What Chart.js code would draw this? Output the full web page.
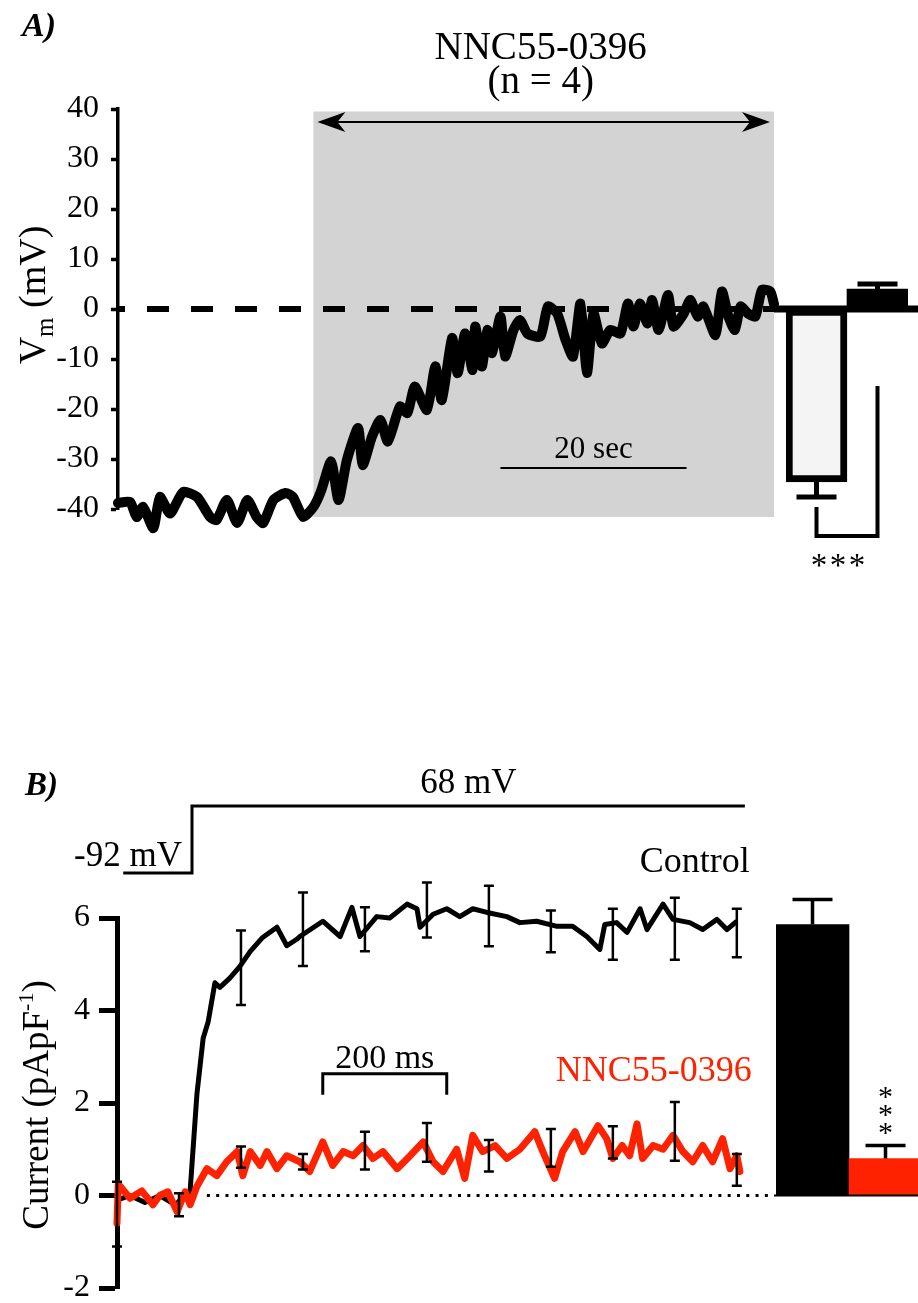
<!DOCTYPE html>
<html>
<head>
<meta charset="utf-8">
<script src="https://cdn.jsdelivr.net/npm/chart.js@4.4.1/dist/chart.umd.min.js"></script>
<style>
  html, body { margin: 0; padding: 0; background: #fff; }
  body { width: 918px; height: 1303px; position: relative; overflow: hidden; }
  canvas { position: absolute; }
</style>
</head>
<body>
<canvas id="traceA" width="780" height="600" style="left:0;top:0"></canvas>
<canvas id="barsA" width="144" height="600" style="left:774px;top:0"></canvas>
<canvas id="stepB" width="780" height="150" style="left:0;top:740px"></canvas>
<canvas id="traceB" width="780" height="640" style="left:0;top:700px"></canvas>
<canvas id="barsB" width="150" height="640" style="left:774px;top:700px"></canvas>
<script>
// ---------- Panel A : membrane potential (time in s, Vm in mV)
const vmTime = [0.0,1.3,2.0,2.7,3.8,4.5,5.6,7.0,8.5,9.9,10.6,11.7,12.8,13.9,14.9,15.6,16.7,18.0,18.8,19.9,
  21.0,21.8,22.9,23.7,24.6,25.8,26.3,27.3,28.2,29.0,30.3,31.1,31.9,33.2,34.1,34.8,35.9,36.5,37.3,38.1,
  38.4,39.1,39.7,40.2,41.1,41.6,42.5,43.2,44.0,45.4,46.2,47.2,48.1,48.9,49.7,50.4,51.1,52.0,52.9,54.0,
  54.8,55.4,56.1,56.9,57.4,58.1,59.1,59.7,60.8,61.5,62.3,62.9,64.2,64.9,65.6,66.3,66.9,67.7,68.5,69.2,70.1,70.5];
const vmValue = [-38.8,-38.6,-41.6,-39.6,-43.8,-37.6,-40.9,-36.6,-37.6,-41.6,-42.2,-38.2,-42.8,-38.2,-41.6,-42.8,-38.2,-36.8,-37.6,-41.6,
  -39.6,-36.5,-30.5,-38.2,-30.2,-23.8,-31.2,-25.5,-22.2,-26.5,-19.5,-20.8,-15.5,-20.2,-11.5,-18.2,-5.8,-12.8,-4.9,-12.2,
  -3.5,-11.5,-4.2,-8.8,-1.5,-9.5,-4.2,-2.2,-4.9,-5.5,0.5,-0.9,-6.2,-9.5,1.1,-12.8,-0.9,-6.9,-4.2,-4.9,
  1.1,-3.5,1.1,-2.9,1.8,-4.2,2.8,-3.5,-0.9,1.8,-1.5,0.5,-5.2,3.5,-1.5,-4.2,0.5,-0.9,-1.5,3.8,3.5,1.0];
const vmTicks = [-40, -30, -20, -10, 0, 10, 20, 30, 40];
const drugStart = 21.0, drugEnd = 70.5;      // NNC55-0396 application (s)
const barLabelsA = ['Control', 'NNC55-0396'];
const vmBarMean = [-34.6, 4.0];
const vmBarErr = [-37.6, 5.0];

// ---------- Panel B : current density (time in ms, pA/pF)
const ctrlTime = [0,21,45,69,94,118,129,139,147,158,166,182,198,215,235,258,274,290,295,332,360,379,392,419,440,468,
  484,489,510,532,553,574,597,629,650,677,710,735,758,779,787,806,823,844,855,881,897,924,945,968,984,1000];
const ctrlValue = [-0.1,0.0,-0.15,0.0,-0.2,0.1,2.2,3.4,3.75,4.6,4.5,4.7,4.95,5.28,5.58,5.8,5.4,5.54,5.6,5.93,5.6,6.23,5.6,6.03,6.0,6.3,
  6.2,5.8,6.08,6.2,6.03,6.2,6.12,6.03,5.9,5.93,5.82,5.82,5.6,5.32,5.86,5.9,5.69,6.2,5.75,6.3,5.97,5.9,5.75,5.97,5.75,5.93];
const nncTime = [0,2,21,40,58,69,82,97,110,118,129,145,161,177,194,203,215,231,242,258,274,295,311,332,348,365,381,397,413,429,
  452,473,494,510,526,548,561,574,590,610,629,650,674,687,706,719,739,752,776,790,800,815,827,839,848,865,881,897,913,929,
  945,961,977,989,1000,1005];
const nncValue = [-0.6,0.25,-0.06,0.1,-0.2,0.0,0.08,-0.35,0.08,-0.2,0.2,0.58,0.43,0.73,0.95,0.43,0.95,0.65,0.95,0.58,0.86,0.73,0.52,1.16,0.65,0.95,0.86,1.08,0.8,0.95,
  0.58,0.86,1.16,0.73,0.52,1.0,0.37,1.3,0.95,1.08,0.8,1.0,1.38,0.95,0.37,0.95,1.38,0.95,1.51,1.23,0.8,1.08,0.86,1.55,0.8,1.08,1.0,1.3,0.95,0.73,
  1.08,0.73,1.23,0.58,0.86,0.52];
const errTime = [0,100,200,300,400,500,600,700,800,900,1000];
const ctrlErrLow  = [-1.1,-0.45,4.12,4.96,5.28,5.58,5.39,5.26,5.1,5.1,5.15];
const ctrlErrHigh = [0.3,0.05,5.73,6.55,6.23,6.77,6.70,6.16,6.2,6.44,6.2];
const nncErrLow  = [null,null,0.6,0.56,0.56,0.73,0.52,0.62,0.8,0.75,0.21];
const nncErrHigh = [null,null,1.06,0.9,1.38,1.57,1.2,1.44,1.5,2.02,0.9];
const curTicks = [-2, 0, 2, 4, 6];
const stepTime = [10, 121, 121, 1013];
const stepVolt = [-92, -92, 68, 68];
const barLabelsB = ['Control', 'NNC55-0396'];
const curBarMean = [5.86, 0.8];
const curBarErr = [6.4, 1.08];

const SERIF = "'Liberation Serif', 'Times New Roman', serif";
const RED = '#ff2200';
Chart.defaults.font.family = SERIF;
Chart.defaults.color = '#000';

const xy = (xs, ys) => xs.map((t, i) => ({ x: t, y: ys[i] }));

function txt(ctx, s, x, y, size, align, color, style) {
  ctx.save();
  ctx.font = (style ? style + ' ' : '') + size + 'px ' + SERIF;
  ctx.fillStyle = color || '#000';
  ctx.textAlign = align || 'center';
  ctx.textBaseline = 'alphabetic';
  ctx.fillText(s, x, y);
  ctx.restore();
}

function rotatedTitle(ctx, bx, cy, parts) {
  ctx.save();
  ctx.translate(bx, cy);
  ctx.rotate(-Math.PI / 2);
  ctx.fillStyle = '#000';
  ctx.textAlign = 'left';
  ctx.textBaseline = 'alphabetic';
  let total = 0;
  parts.forEach(p => { ctx.font = p.size + 'px ' + SERIF; p.w = ctx.measureText(p.t).width; total += p.w; });
  let pos = -total / 2;
  parts.forEach(p => { ctx.font = p.size + 'px ' + SERIF; ctx.fillText(p.t, pos, p.dy); pos += p.w; });
  ctx.restore();
}

function errBar(ctx, x, yLo, yHi, half, w) {
  ctx.lineWidth = w;
  ctx.beginPath();
  ctx.moveTo(x, yLo); ctx.lineTo(x, yHi);
  ctx.moveTo(x - half, yLo); ctx.lineTo(x + half, yLo);
  ctx.moveTo(x - half, yHi); ctx.lineTo(x + half, yHi);
  ctx.stroke();
}

function arrowHead(ctx, tipX, y, dir) {
  ctx.beginPath();
  ctx.moveTo(tipX, y);
  ctx.lineTo(tipX + dir * 28, y - 10);
  ctx.lineTo(tipX + dir * 20, y);
  ctx.lineTo(tipX + dir * 28, y + 10);
  ctx.closePath();
  ctx.fill();
}

function yAxis(ticks, tickLen, width, pad, axisW) {
  return {
    min: ticks[0], max: ticks[ticks.length - 1],
    afterBuildTicks: s => { s.ticks = ticks.map(v => ({ value: v })); },
    afterFit: s => { s.width = width; },
    ticks: { font: { size: 32, family: SERIF }, color: '#000', padding: pad },
    grid: { drawOnChartArea: false, drawTicks: true, tickLength: tickLen, tickWidth: axisW, tickColor: '#000' },
    border: { display: true, color: '#000', width: axisW }
  };
}

const common = { responsive: false, animation: false, events: [], devicePixelRatio: 1,
  plugins: { legend: { display: false }, tooltip: { enabled: false } } };

// ---------- Panel A trace
const panelA = {
  id: 'panelA',
  beforeDatasetsDraw(chart) {
    const { ctx, scales: { x, y } } = chart;
    const x0 = x.getPixelForValue(drugStart), x1 = x.getPixelForValue(drugEnd);
    const y0 = y.getPixelForValue(39.5), y1 = y.getPixelForValue(-41.6);
    ctx.save();
    ctx.fillStyle = '#d3d3d3';
    ctx.fillRect(x0, y0, x1 - x0, y1 - y0);
    ctx.restore();
  },
  afterDraw(chart) {
    const { ctx, scales: { x, y } } = chart;
    const x0 = x.getPixelForValue(drugStart), x1 = x.getPixelForValue(drugEnd);
    const ay = y.getPixelForValue(37.4);
    ctx.save();
    ctx.strokeStyle = '#000'; ctx.fillStyle = '#000'; ctx.lineWidth = 2;
    ctx.beginPath(); ctx.moveTo(x0 + 14, ay); ctx.lineTo(x1 - 14, ay); ctx.stroke();
    arrowHead(ctx, x0 + 4, ay, 1);
    arrowHead(ctx, x1 - 4, ay, -1);
    // 20 s scale bar
    const sb0 = x.getPixelForValue(41.1), sb1 = x.getPixelForValue(61.1), sby = y.getPixelForValue(-31.8);
    ctx.lineWidth = 2;
    ctx.beginPath(); ctx.moveTo(sb0, sby); ctx.lineTo(sb1, sby); ctx.stroke();
    ctx.restore();
    txt(ctx, '20 sec', (sb0 + sb1) / 2, sby - 10, 31);
    const mid = (x0 + x1) / 2;
    txt(ctx, 'NNC55-0396', mid - 3, 59, 39);
    txt(ctx, '(n = 4)', mid - 3, 93, 39);
    txt(ctx, 'A)', 22, 36, 34, 'left', '#000', 'italic bold');
    rotatedTitle(ctx, 45, 295, [
      { t: 'V', size: 38, dy: 0 }, { t: 'm', size: 25, dy: 8 }, { t: ' (mV)', size: 38, dy: 0 }
    ]);
  }
};

new Chart(document.getElementById('traceA'), {
  type: 'line',
  data: { datasets: [
    { data: xy(vmTime, vmValue), borderColor: '#000', borderWidth: 10, pointRadius: 0, tension: 0.2,
      borderJoinStyle: 'round', borderCapStyle: 'round', clip: false },
    { data: [{ x: 0, y: 0 }, { x: drugEnd, y: 0 }], borderColor: '#000', borderWidth: 6, pointRadius: 0,
      borderDash: [22, 22], borderDashOffset: 15, clip: false }
  ] },
  options: Object.assign({}, common, {
    layout: { padding: { top: 109, bottom: 91, left: 0, right: 6 } },
    scales: {
      x: { type: 'linear', min: 0, max: drugEnd, display: false },
      y: yAxis(vmTicks, 7, 118, 12, 3.5)
    }
  }),
  plugins: [panelA]
});

// ---------- Panel A bars
const barsAPlugin = {
  id: 'barsA',
  afterDatasetsDraw(chart) {
    const { ctx, scales: { y } } = chart;
    const meta = chart.getDatasetMeta(0);
    const y0 = y.getPixelForValue(0);
    ctx.save();
    ctx.strokeStyle = '#000';
    ctx.lineWidth = 7;
    ctx.beginPath(); ctx.moveTo(0, y0); ctx.lineTo(chart.width, y0); ctx.stroke();
    meta.data.forEach((bar, i) => {
      const yb = y.getPixelForValue(vmBarMean[i]), ye = y.getPixelForValue(vmBarErr[i]);
      ctx.lineWidth = 5;
      ctx.beginPath(); ctx.moveTo(bar.x, yb); ctx.lineTo(bar.x, ye);
      ctx.moveTo(bar.x - 20, ye); ctx.lineTo(bar.x + 20, ye); ctx.stroke();
    });
    const bx0 = meta.data[0].x, bx1 = meta.data[1].x;
    const yLow = y.getPixelForValue(-45.4);
    ctx.lineWidth = 4;
    ctx.beginPath();
    ctx.moveTo(bx0, y.getPixelForValue(-39.6));
    ctx.lineTo(bx0, yLow); ctx.lineTo(bx1, yLow);
    ctx.lineTo(bx1, y.getPixelForValue(-15.4));
    ctx.stroke();
    ctx.restore();
    const mid = (bx0 + bx1) / 2 - 9;
    [-19, 0, 19].forEach(d => txt(ctx, '*', mid + d, yLow + 40, 33));
  }
};

new Chart(document.getElementById('barsA'), {
  type: 'bar',
  data: { labels: barLabelsA, datasets: [{
    data: vmBarMean, backgroundColor: ['#f4f4f4', '#000'], borderColor: '#000',
    borderWidth: [7, 0], borderSkipped: false, barPercentage: 1, categoryPercentage: 1
  }] },
  options: Object.assign({}, common, {
    layout: { padding: { top: 109, bottom: 91, left: 12, right: 10 } },
    scales: {
      x: { display: false },
      y: { display: false, min: vmTicks[0], max: vmTicks[vmTicks.length - 1] }
    }
  }),
  plugins: [barsAPlugin]
});

// ---------- Panel B voltage protocol
const stepPlugin = {
  id: 'stepB',
  afterDraw(chart) {
    const { ctx, scales: { x, y } } = chart;
    txt(ctx, '-92 mV', x.getPixelForValue(stepTime[1]) - 10, y.getPixelForValue(-92) - 7, 35, 'right');
    txt(ctx, '68 mV', (x.getPixelForValue(stepTime[2]) + x.getPixelForValue(stepTime[3])) / 2, y.getPixelForValue(68) - 13, 35);
  }
};

new Chart(document.getElementById('stepB'), {
  type: 'line',
  data: { datasets: [{ data: xy(stepTime, stepVolt), borderColor: '#000', borderWidth: 3, pointRadius: 0,
    borderJoinStyle: 'miter', clip: false }] },
  options: Object.assign({}, common, {
    layout: { padding: { top: 66, bottom: 17, left: 117, right: 6 } },
    scales: {
      x: { type: 'linear', min: 0, max: 1060, display: false },
      y: { min: -92, max: 68, display: false }
    }
  }),
  plugins: [stepPlugin]
});

// ---------- Panel B current traces
const panelB = {
  id: 'panelB',
  afterDatasetsDraw(chart) {
    const { ctx, scales: { x, y } } = chart;
    ctx.save();
    ctx.strokeStyle = '#000';
    errTime.forEach((t, i) => {
      const px = x.getPixelForValue(t);
      errBar(ctx, px, y.getPixelForValue(ctrlErrLow[i]), y.getPixelForValue(ctrlErrHigh[i]), 5, 2.5);
      if (nncErrLow[i] !== null) {
        errBar(ctx, px, y.getPixelForValue(nncErrLow[i]), y.getPixelForValue(nncErrHigh[i]), 5, 2.5);
      }
    });
    // 200 ms scale bracket
    const b0 = x.getPixelForValue(332), b1 = x.getPixelForValue(532);
    const by = y.getPixelForValue(2.63), bt = y.getPixelForValue(2.18);
    ctx.lineWidth = 3;
    ctx.beginPath();
    ctx.moveTo(b0, bt); ctx.lineTo(b0, by); ctx.lineTo(b1, by); ctx.lineTo(b1, bt);
    ctx.stroke();
    ctx.restore();
    txt(ctx, '200 ms', (b0 + b1) / 2, by - 6, 34);
  },
  afterDraw(chart) {
    const { ctx, scales: { x, y } } = chart;
    txt(ctx, 'B)', 25, 95, 33, 'left', '#000', 'italic bold');
    txt(ctx, 'Control', x.getPixelForValue(1021), y.getPixelForValue(7.0), 36, 'right');
    txt(ctx, 'NNC55-0396', x.getPixelForValue(1024), y.getPixelForValue(2.47), 36, 'right', RED);
    rotatedTitle(ctx, 48, 405, [
      { t: 'Current (pApF', size: 37, dy: 0 }, { t: '-1', size: 22, dy: -15 }, { t: ')', size: 37, dy: 0 }
    ]);
  }
};

new Chart(document.getElementById('traceB'), {
  type: 'line',
  data: { datasets: [
    { data: xy(nncTime, nncValue), borderColor: RED, borderWidth: 7, pointRadius: 0, tension: 0,
      borderJoinStyle: 'round', borderCapStyle: 'round', clip: false },
    { data: xy(ctrlTime, ctrlValue), borderColor: '#000', borderWidth: 5, pointRadius: 0, tension: 0,
      borderJoinStyle: 'round', clip: false },
    { data: [{ x: 145, y: 0 }, { x: 1060, y: 0 }], borderColor: '#000', borderWidth: 3, pointRadius: 0,
      borderDash: [3, 6.3], clip: false }
  ] },
  options: Object.assign({}, common, {
    layout: { padding: { top: 218, bottom: 52, left: 0, right: 6 } },
    scales: {
      x: { type: 'linear', min: 0, max: 1060, display: false },
      y: yAxis(curTicks, 18, 117, 9, 5)
    }
  }),
  plugins: [panelB]
});

// ---------- Panel B bars
const barsBPlugin = {
  id: 'barsB',
  afterDatasetsDraw(chart) {
    const { ctx, scales: { y } } = chart;
    const meta = chart.getDatasetMeta(0);
    const y0 = y.getPixelForValue(0);
    ctx.save();
    ctx.strokeStyle = '#000';
    ctx.lineWidth = 2;
    ctx.beginPath(); ctx.moveTo(0, y0); ctx.lineTo(chart.width, y0); ctx.stroke();
    meta.data.forEach((bar, i) => {
      const yb = y.getPixelForValue(curBarMean[i]), ye = y.getPixelForValue(curBarErr[i]);
      ctx.lineWidth = 3.5;
      ctx.beginPath(); ctx.moveTo(bar.x, yb); ctx.lineTo(bar.x, ye);
      ctx.moveTo(bar.x - 20, ye); ctx.lineTo(bar.x + 20, ye); ctx.stroke();
    });
    ctx.restore();
    const ax = meta.data[1].x, cap = y.getPixelForValue(curBarErr[1]);
    [4, 22, 40].forEach(d => txt(ctx, '*', ax, cap - d, 30));
  }
};

new Chart(document.getElementById('barsB'), {
  type: 'bar',
  data: { labels: barLabelsB, datasets: [{
    data: curBarMean, backgroundColor: ['#000', RED], borderWidth: 0, barPercentage: 1, categoryPercentage: 1
  }] },
  options: Object.assign({}, common, {
    layout: { padding: { top: 218, bottom: 52, left: 2, right: 2 } },
    scales: {
      x: { display: false },
      y: { display: false, min: curTicks[0], max: curTicks[curTicks.length - 1] }
    }
  }),
  plugins: [barsBPlugin]
});
</script>
</body>
</html>
